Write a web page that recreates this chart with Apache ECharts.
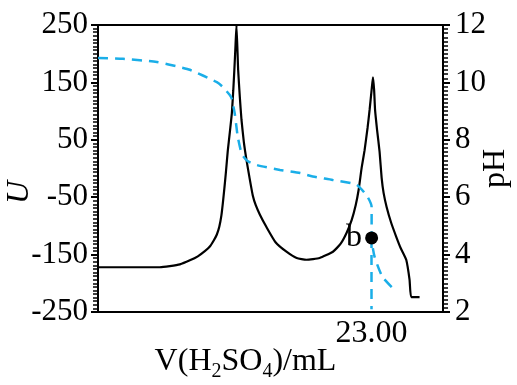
<!DOCTYPE html>
<html>
<head>
<meta charset="utf-8">
<script src="https://cdn.jsdelivr.net/npm/echarts@6/dist/echarts.min.js"></script>
<style>
  html, body { margin: 0; padding: 0; background: #fff; }
  #chart { width: 517px; height: 385px; }
</style>
</head>
<body>
<div id="chart"></div>
<script>
// 电位 U 曲线 (x: V/mL, y: U)
const uCurve = [
  [0, -172], [5.2, -172], [6.04, -170], [6.88, -167], [7.72, -160], [8.39, -153],
  [8.98, -144], [9.4, -136], [9.74, -125], [9.99, -115], [10.2, -101], [10.37, -82],
  [10.49, -61], [10.62, -35], [10.75, -7], [10.91, 31], [11.08, 63], [11.25, 96],
  [11.37, 136], [11.46, 171], [11.56, 215], [11.64, 250],
  [11.78, 172], [11.92, 125], [12.06, 85], [12.26, 46], [12.48, 15], [12.76, -19],
  [13.01, -47], [13.26, -64], [13.6, -80], [14.16, -102], [14.94, -129], [15.84, -145],
  [16.7, -156], [17.52, -159], [18.63, -156], [19.75, -145], [20.4, -131], [20.9, -112],
  [21.32, -90], [21.66, -64], [21.91, -37], [22.16, 1], [22.41, 32], [22.66, 71],
  [22.83, 102], [23.0, 137], [23.11, 159], [23.21, 137], [23.29, 102], [23.46, 67],
  [23.67, 29], [23.84, -16], [24.01, -43], [24.26, -67], [24.65, -95], [25.07, -119],
  [25.43, -138], [25.91, -159], [26.19, -194], [26.33, -224], [27.03, -224]
];

// pH 曲线
const phCurve = [
  [0, 10.85], [2.1, 10.82], [4.95, 10.71], [6.9, 10.53], [7.72, 10.44],
  [9.99, 10.01], [10.49, 9.84], [11.08, 9.56], [11.25, 9.42], [11.5, 8.9],
  [11.75, 8.1], [12.1, 7.5], [12.6, 7.25], [13.35, 7.12], [15.3, 6.95],
  [17.0, 6.84], [18.05, 6.72], [19.73, 6.6], [21.74, 6.43], [22.66, 6.01],
  [23.0, 5.66], [23.0, 4.96], [23.0, 4.58], [23.25, 3.92], [23.92, 3.22], [25.1, 2.7]
];

const pointB = [[23.0, 4.58]];
const xTickValues = [23];
const uTicks = { min: -250, max: 250, interval: 100 };
const phTicks = { min: 2, max: 12, interval: 2 };

const serif = 'Liberation Serif';
const blue = '#1aaee8';

const chart = echarts.init(document.getElementById('chart'));

const option = {
  animation: false,
  grid: {
    left: 98, right: 74, top: 25, bottom: 73,
    outerBoundsMode: 'none',
    containLabel: false,
    show: true, borderColor: '#000', borderWidth: 2
  },
  xAxis: {
    type: 'value',
    min: 0,
    max: 29,
    name: '{n|V(H}{s|2}{n|SO}{s|4}{n|)/mL}',
    nameLocation: 'middle',
    nameGap: 30,
    nameMoveOverlap: false,
    nameTextStyle: {
      padding: [0, 50, 0, 0],
      rich: {
        n: { fontFamily: serif, fontSize: 32, lineHeight: 40, color: '#000' },
        s: { fontFamily: serif, fontSize: 20, lineHeight: 20, color: '#000', verticalAlign: 'bottom' }
      }
    },
    axisLine: { onZero: false, lineStyle: { color: '#000', width: 2 } },
    axisTick: { show: false },
    splitLine: { show: false },
    axisLabel: {
      customValues: xTickValues,
      formatter: v => v.toFixed(2),
      fontFamily: serif, fontSize: 32, color: '#000', margin: 6
    }
  },
  yAxis: [
    {
      type: 'value',
      min: uTicks.min, max: uTicks.max, interval: uTicks.interval,
      name: 'U',
      nameLocation: 'middle',
      nameRotate: 90,
      nameGap: 62,
      nameMoveOverlap: false,
      nameTextStyle: {
        fontFamily: serif, fontSize: 32, fontStyle: 'italic', color: '#000',
        padding: [0, 48, 0, 0]
      },
      axisLine: { show: true, onZero: false, lineStyle: { color: '#000', width: 2 } },
      axisTick: { show: true, length: 7, lineStyle: { color: '#000', width: 2 } },
      minorTick: { show: true, splitNumber: 16, length: 5, lineStyle: { color: '#000', width: 1.5 } },
      splitLine: { show: false },
      axisLabel: { fontFamily: serif, fontSize: 31, color: '#000', margin: 10 }
    },
    {
      type: 'value',
      position: 'right',
      min: phTicks.min, max: phTicks.max, interval: phTicks.interval,
      name: 'pH',
      nameLocation: 'middle',
      nameRotate: 90,
      nameGap: 37,
      nameMoveOverlap: false,
      nameTextStyle: { fontFamily: serif, fontSize: 32, color: '#000' },
      axisLine: { show: true, onZero: false, lineStyle: { color: '#000', width: 2 } },
      axisTick: { show: true, length: 7, lineStyle: { color: '#000', width: 2 } },
      minorTick: { show: true, splitNumber: 14, length: 5, lineStyle: { color: '#000', width: 1.5 } },
      splitLine: { show: false },
      axisLabel: { fontFamily: serif, fontSize: 31, color: '#000', margin: 12 }
    }
  ],
  series: [
    {
      name: 'U',
      type: 'line',
      yAxisIndex: 0,
      data: uCurve,
      showSymbol: false,
      smooth: 0.15,
      lineStyle: { color: '#000', width: 2.2 }
    },
    {
      name: 'pH',
      type: 'line',
      yAxisIndex: 1,
      data: phCurve,
      showSymbol: false,
      smooth: 0.2,
      lineStyle: { color: blue, width: 2.5, type: [10, 7] },
      markLine: {
        silent: true,
        symbol: 'none',
        label: { show: false },
        lineStyle: { color: blue, width: 2.5, type: [10, 7] },
        data: [[{ coord: [23.0, 4.58] }, { coord: [23.0, 2.1] }]]
      }
    },
    {
      name: 'b',
      type: 'scatter',
      yAxisIndex: 1,
      data: pointB,
      symbolSize: 13,
      itemStyle: { color: '#000', opacity: 1 },
      label: {
        show: true, formatter: 'b', position: 'left', distance: 3,
        fontFamily: serif, fontSize: 32, color: '#000'
      },
      z: 5
    }
  ]
};

chart.setOption(option);
</script>
</body>
</html>
